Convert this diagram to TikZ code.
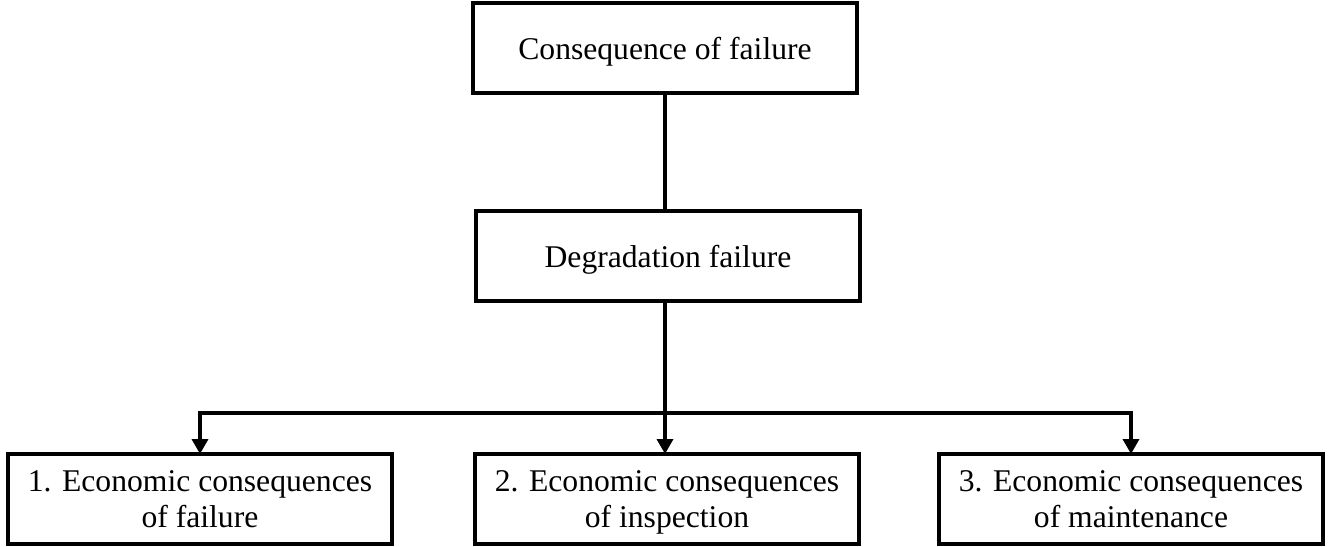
\documentclass[tikz,border=0pt]{standalone}
\usepackage{fontspec}
\setmainfont{Liberation Serif}
\usetikzlibrary{arrows.meta,positioning}

\begin{document}
\begin{tikzpicture}[x=0.02cm, y=-0.02cm,
		block/.style={rectangle, draw, line width=2pt, minimum width=7.68cm, minimum height=1.8cm, inner sep=0pt, outer sep=0pt, align=center, text depth=0pt, font=\fontsize{18}{21}\selectfont},
		link/.style={line width=2pt},
		arrowlink/.style={line width=2pt, -{Triangle[length=0.3cm, width=0.32cm]}}]
			\useasboundingbox (0,0) rectangle (1330,547);
			
			\node [block] (top) at (665,48) {Consequence of failure};
			\node [block] (deg) at (668,256) {Degradation failure};
			
			\node [block] (eco1) at (200,499) {1. Economic consequences\\of failure};
			\node [block] (eco2) at (667,499) {2. Economic consequences\\of inspection};
			\node [block] (eco3) at (1131,499) {3. Economic consequences\\of maintenance};
			
			\coordinate (bus) at (665,413);
			
			\draw [link] (top.south -| 665,0) -- (deg.north -| 665,0);
			\draw [arrowlink] (deg.south -| bus) -- (eco2.north -| bus);
			\draw [arrowlink] (bus) -| (eco1.north);
			\draw [arrowlink] (bus) -| (eco3.north);
		\end{tikzpicture}
\end{document}
